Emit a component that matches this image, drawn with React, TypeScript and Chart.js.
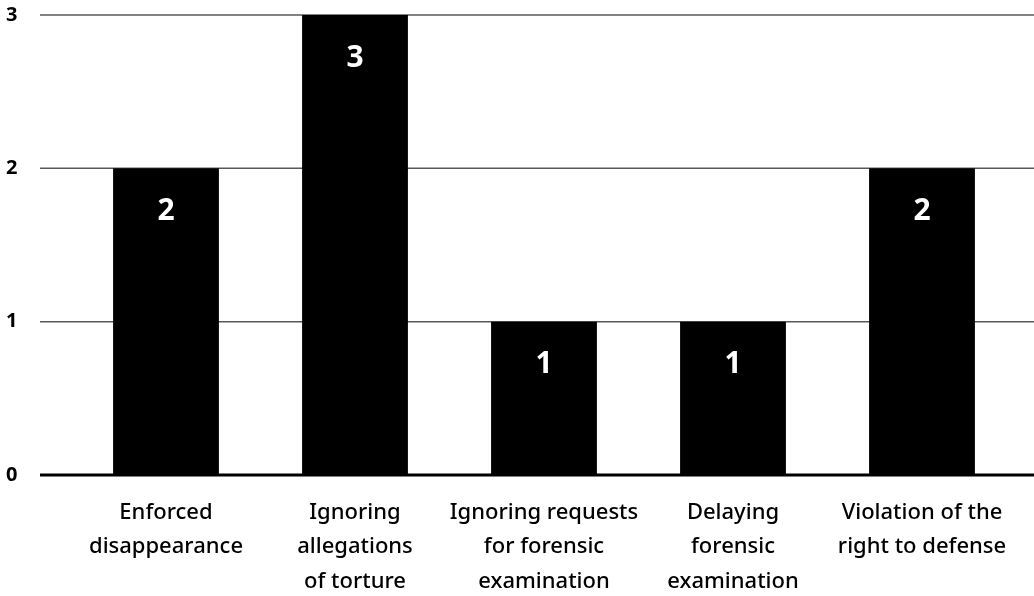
import React, { useEffect, useRef } from "react";
import { Chart, registerables } from "chart.js";

Chart.register(...registerables);

const categories: string[][] = [
  ["Enforced", "disappearance"],
  ["Ignoring", "allegations", "of torture"],
  ["Ignoring requests", "for forensic", "examination"],
  ["Delaying", "forensic", "examination"],
  ["Violation of the", "right to defense"],
];
const values: number[] = [2, 3, 1, 1, 2];
const yTicks: number[] = [0, 1, 2, 3];

const FONT = "'Noto Sans', 'Open Sans', sans-serif";

const gridPlugin = {
  id: "customGrid",
  beforeDatasetsDraw(chart: any) {
    const { ctx } = chart;
    const y = chart.scales.y;
    ctx.save();
    ctx.strokeStyle = "#595959";
    ctx.lineWidth = 1.5;
    yTicks.forEach((v) => {
      if (v === 0) return;
      const py = y.getPixelForValue(v);
      ctx.beginPath();
      ctx.moveTo(40, py);
      ctx.lineTo(chart.width, py);
      ctx.stroke();
    });
    ctx.restore();
  },
  afterDatasetsDraw(chart: any) {
    const { ctx } = chart;
    const y = chart.scales.y;
    ctx.save();
    const py = y.getPixelForValue(0);
    ctx.strokeStyle = "#000";
    ctx.lineWidth = 3;
    ctx.beginPath();
    ctx.moveTo(40, py);
    ctx.lineTo(chart.width, py);
    ctx.stroke();

    const meta = chart.getDatasetMeta(0);
    ctx.fillStyle = "#fff";
    ctx.font = `bold 30px ${FONT}`;
    ctx.textAlign = "center";
    ctx.textBaseline = "middle";
    meta.data.forEach((bar: any, i: number) => {
      ctx.fillText(String(values[i]), bar.x, bar.y + 43);
    });
    ctx.restore();
  },
};

export default function App() {
  const ref = useRef<HTMLCanvasElement | null>(null);
  useEffect(() => {
    if (!ref.current) return;
    const chart = new Chart(ref.current, {
      type: "bar",
      data: {
        labels: categories,
        datasets: [
          {
            data: values,
            backgroundColor: "#000",
            barPercentage: 0.56,
            categoryPercentage: 1,
          },
        ],
      },
      options: {
        animation: false,
        responsive: true,
        maintainAspectRatio: false,
        layout: { padding: { left: 6, right: 17.5, top: 15, bottom: 0 } },
        plugins: {
          legend: { display: false },
          tooltip: { enabled: false },
        },
        scales: {
          x: {
            grid: { display: false, drawTicks: false },
            border: { display: false },
            ticks: {
              color: "#000",
              font: { family: FONT, size: 22, weight: 500, lineHeight: 1.58 },
              padding: 20,
              maxRotation: 0,
              autoSkip: false,
            },
            afterFit(scale: any) {
              scale.height = 121;
            },
          },
          y: {
            min: 0,
            max: 3,
            grid: { display: false, drawTicks: false },
            border: { display: false },
            ticks: {
              stepSize: 1,
              crossAlign: "far",
              color: "#000",
              font: { family: FONT, size: 20, weight: "bold" },
            },
            afterFit(scale: any) {
              scale.width = 65.5;
            },
          },
        },
      },
      plugins: [gridPlugin],
    });
    return () => chart.destroy();
  }, []);

  return (
    <div
      style={{
        position: "fixed",
        left: 0,
        top: 0,
        width: 1034,
        height: 596,
        background: "#fff",
      }}
    >
      <canvas ref={ref} />
    </div>
  );
}
